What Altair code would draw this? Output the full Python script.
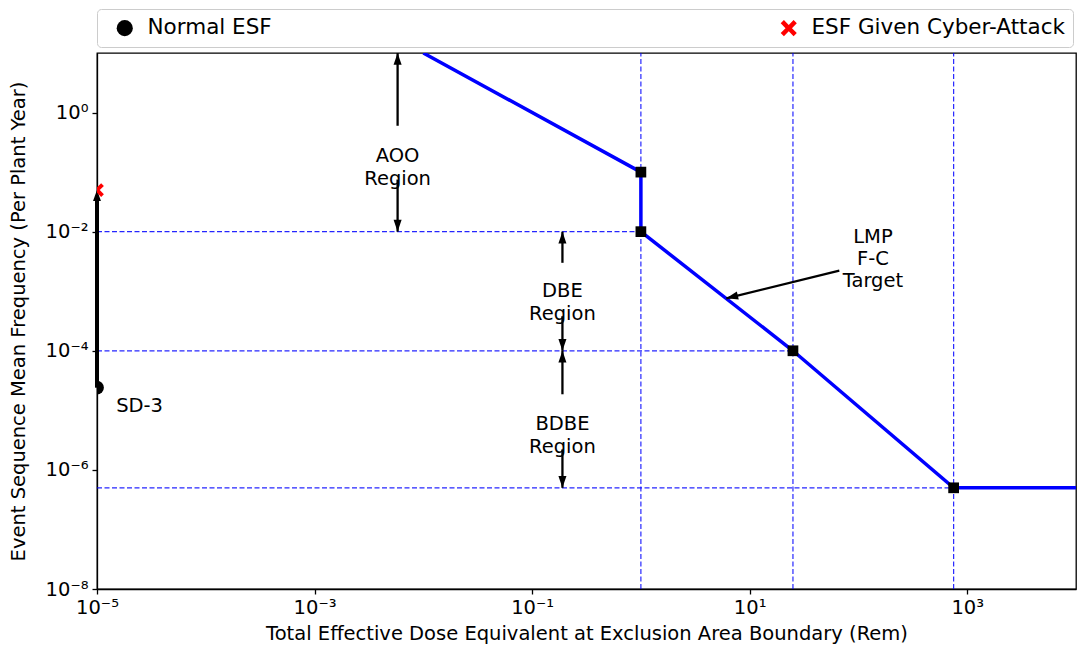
import math
import altair as alt
import pandas as pd

# ---------------- data ----------------
x_domain = [1e-5, 1e4]
y_domain = [1e-8, 10]

# LMP F-C target curve
curve_x = [0.01, 1, 1, 25, 750, 1e4]
curve_y = [10, 0.1, 0.01, 1e-4, 5e-7, 5e-7]
corner_x = [1, 1, 25, 750]
corner_y = [0.1, 0.01, 1e-4, 5e-7]

# dashed guide lines
vline_x = [1, 25, 750]
hline_y = [1e-2, 1e-4, 5e-7]
hline_end_x = [1, 25, 750]

# tick labels
x_tick_values = [1e-5, 1e-3, 1e-1, 1e1, 1e3]
x_tick_labels = ["10⁻⁵", "10⁻³", "10⁻¹", "10¹", "10³"]
y_tick_values = [1e-8, 1e-6, 1e-4, 1e-2, 1e0]
y_tick_labels = ["10⁻⁸", "10⁻⁶", "10⁻⁴", "10⁻²", "10⁰"]

# event sequence family points
esf_series = ["Normal ESF", "ESF Given Cyber-Attack"]
esf_x = [1e-5, 1e-5]
esf_y = [2.4e-5, 5e-2]
esf_colors = ["black", "red"]

# SD-3 arrow (normal -> cyber attack)
sd_shaft_x = [1e-5]
sd_shaft_y0 = [2.4e-5]
sd_shaft_y1 = [3.3e-2]
sd_tip_y = [5e-2]
sd_label = ["SD-3"]
sd_label_x = [1.5e-5]
sd_label_y = [1.16e-5]

# region annotations
region_labels = ["AOO\nRegion", "DBE\nRegion", "BDBE\nRegion"]
region_x = [0.0058, 0.19, 0.19]
region_text_y = [0.19, 1e-3, 5.9e-6]
region_tip_top = [10, 1e-2, 1e-4]
region_tail_top = [0.6, 3e-3, 1.86e-5]
region_tail_bottom = [0.075, 3.8e-4, 2.2e-6]
region_tip_bottom = [1e-2, 1e-4, 5e-7]

# LMP annotation
lmp_label = ["LMP\nF-C\nTarget"]
lmp_text_x = [136]
lmp_text_y = [8e-3]
lmp_tail_x = [66.7]
lmp_tail_y = [2.22e-3]
lmp_tip_x = [6.1]
lmp_tip_y = [7.6e-4]

# ---------------- layout / style ----------------
W, H = 979, 536
FONT = "DejaVu Sans"
FS = 19.5
LEG_FS = 21.5
BLUE = "#0000ff"
HEAD = "M0,0 L-0.34,1 L0.34,1 Z"
XMARK = ("M-1,-0.6 L-0.6,-1 L0,-0.4 L0.6,-1 L1,-0.6 L0.4,0 L1,0.6 "
         "L0.6,1 L0,0.4 L-0.6,1 L-1,0.6 L-0.4,0 Z")


def label_expr(values, labels):
    expr = "''"
    for v, lab in zip(reversed(values), reversed(labels)):
        e = round(math.log10(v))
        expr = f"(abs(log(datum.value)/LN10 - ({e})) < 0.01 ? '{lab}' : {expr})"
    return expr


xs = alt.Scale(type="log", domain=x_domain, nice=False)
ys = alt.Scale(type="log", domain=y_domain, nice=False)

x_axis = alt.Axis(values=x_tick_values, labelExpr=label_expr(x_tick_values, x_tick_labels),
                  title="Total Effective Dose Equivalent at Exclusion Area Boundary (Rem)",
                  grid=False, tickSize=5, labelPadding=4, titlePadding=8, labelFlush=False)
y_axis = alt.Axis(values=y_tick_values, labelExpr=label_expr(y_tick_values, y_tick_labels),
                  title="Event Sequence Mean Frequency (Per Plant Year)",
                  grid=False, tickSize=5, labelPadding=4, titlePadding=17, labelFlush=False)


def X(f, axis=alt.Undefined):
    return alt.X(f, type="quantitative", scale=xs, axis=axis)


def Y(f, axis=alt.Undefined):
    return alt.Y(f, type="quantitative", scale=ys, axis=axis)


# dashed lines
vdf = pd.DataFrame({"x": vline_x, "y0": [y_domain[0]] * len(vline_x), "y1": [y_domain[1]] * len(vline_x)})
vlines = alt.Chart(vdf).mark_rule(color=BLUE, strokeWidth=1.2, strokeDash=[5, 2.5], opacity=0.85).encode(
    x=X("x", x_axis), y=Y("y0", y_axis), y2="y1")
hdf = pd.DataFrame({"y": hline_y, "x0": [x_domain[0]] * len(hline_y), "x1": hline_end_x})
hlines = alt.Chart(hdf).mark_rule(color=BLUE, strokeWidth=1.2, strokeDash=[5, 2.5], opacity=0.85).encode(
    x=X("x0"), x2="x1", y=Y("y"))

# curve
cdf = pd.DataFrame({"x": curve_x, "y": curve_y, "o": list(range(len(curve_x)))})
curve = alt.Chart(cdf).mark_line(color=BLUE, strokeWidth=3.5, clip=True).encode(
    x=X("x"), y=Y("y"), order="o")
sqdf = pd.DataFrame({"x": corner_x, "y": corner_y})
squares = alt.Chart(sqdf).mark_point(shape="square", filled=True, color="black", size=115, opacity=1).encode(
    x=X("x"), y=Y("y"))

# region arrows
shaft_rows = []
head_rows = []
for i in range(len(region_labels)):
    shaft_rows.append({"x": region_x[i], "x2": region_x[i], "y": region_tail_top[i], "y2": region_tip_top[i]})
    shaft_rows.append({"x": region_x[i], "x2": region_x[i], "y": region_tail_bottom[i], "y2": region_tip_bottom[i]})
    head_rows.append({"x": region_x[i], "y": region_tip_top[i], "a": 0})
    head_rows.append({"x": region_x[i], "y": region_tip_bottom[i], "a": 180})

# LMP arrow direction in pixel space
pxd = W / (math.log10(x_domain[1]) - math.log10(x_domain[0]))
pyd = H / (math.log10(y_domain[1]) - math.log10(y_domain[0]))
dx = (math.log10(lmp_tip_x[0]) - math.log10(lmp_tail_x[0])) * pxd
dy = -(math.log10(lmp_tip_y[0]) - math.log10(lmp_tail_y[0])) * pyd
ang = math.degrees(math.atan2(dx, -dy)) % 360
shaft_rows.append({"x": lmp_tail_x[0], "x2": lmp_tip_x[0], "y": lmp_tail_y[0], "y2": lmp_tip_y[0]})
head_rows.append({"x": lmp_tip_x[0], "y": lmp_tip_y[0], "a": ang})

shafts = alt.Chart(pd.DataFrame(shaft_rows)).mark_rule(color="black", strokeWidth=2.3).encode(
    x=X("x"), x2="x2", y=Y("y"), y2="y2")
heads = alt.Chart(pd.DataFrame(head_rows)).mark_point(shape=HEAD, filled=True, color="black",
                                                      size=560, opacity=1).encode(
    x=X("x"), y=Y("y"), angle=alt.Angle("a:Q", scale=None))

# SD-3 arrow
sddf = pd.DataFrame({"x": sd_shaft_x, "y0": sd_shaft_y0, "y1": sd_shaft_y1, "yt": sd_tip_y})
sd_shaft = alt.Chart(sddf).mark_rule(color="black", strokeWidth=4).encode(x=X("x"), y=Y("y0"), y2="y1")
sd_head = alt.Chart(sddf).mark_point(shape="M0,0 L-0.36,1 L0.36,1 Z", filled=True, color="black",
                                     size=484, opacity=1).encode(x=X("x"), y=Y("yt"))

# ESF points with legend
edf = pd.DataFrame({"series": esf_series, "x": esf_x, "y": esf_y})
esf = alt.Chart(edf).mark_point(filled=True, size=190, opacity=1, clip=True).encode(
    x=X("x"), y=Y("y"),
    color=alt.Color("series:N", scale=alt.Scale(domain=esf_series, range=esf_colors),
                    legend=alt.Legend(orient="none", legendX=0, legendY=-44, columns=2, title=None,
                                      labelFont=FONT, labelFontSize=LEG_FS, labelColor="black",
                                      symbolSize=260, symbolOffset=9, labelOffset=12,
                                      columnPadding=497, padding=8, strokeColor="#cccccc",
                                      fillColor="white", cornerRadius=4, symbolStrokeWidth=0,
                                      labelLimit=400)),
    shape=alt.Shape("series:N", scale=alt.Scale(domain=esf_series, range=["circle", XMARK])),
)

# texts
rdf = pd.DataFrame({"label": region_labels, "x": region_x, "y": region_text_y})
rtext = alt.Chart(rdf).mark_text(font=FONT, fontSize=FS, lineBreak="\n", lineHeight=23,
                                 align="center", baseline="middle", color="black").encode(
    x=X("x"), y=Y("y"), text="label")
ldf = pd.DataFrame({"label": lmp_label, "x": lmp_text_x, "y": lmp_text_y})
ltext = alt.Chart(ldf).mark_text(font=FONT, fontSize=FS, lineBreak="\n", lineHeight=22,
                                 align="center", baseline="middle", color="black").encode(
    x=X("x"), y=Y("y"), text="label")
sdt = pd.DataFrame({"label": sd_label, "x": sd_label_x, "y": sd_label_y})
stext = alt.Chart(sdt).mark_text(font=FONT, fontSize=FS, align="left", baseline="middle",
                                 color="black").encode(x=X("x"), y=Y("y"), text="label")

chart = alt.layer(vlines, hlines, curve, squares, shafts, heads, sd_shaft, sd_head, esf,
                  rtext, ltext, stext).properties(
    width=W, height=H,
    padding={"left": 89, "top": 45, "right": 1, "bottom": 56},
    autosize=alt.AutoSizeParams(type="none"),
).configure_view(stroke="black", strokeWidth=1.3).configure_axis(
    domainColor="black", tickColor="black", labelColor="black", titleColor="black",
    labelFont=FONT, titleFont=FONT, labelFontSize=FS, titleFontSize=FS,
    titleFontWeight="normal", domainWidth=1.3, tickWidth=1.3,
)

chart.save("out.html", embed_options={"renderer": "svg", "actions": False})
